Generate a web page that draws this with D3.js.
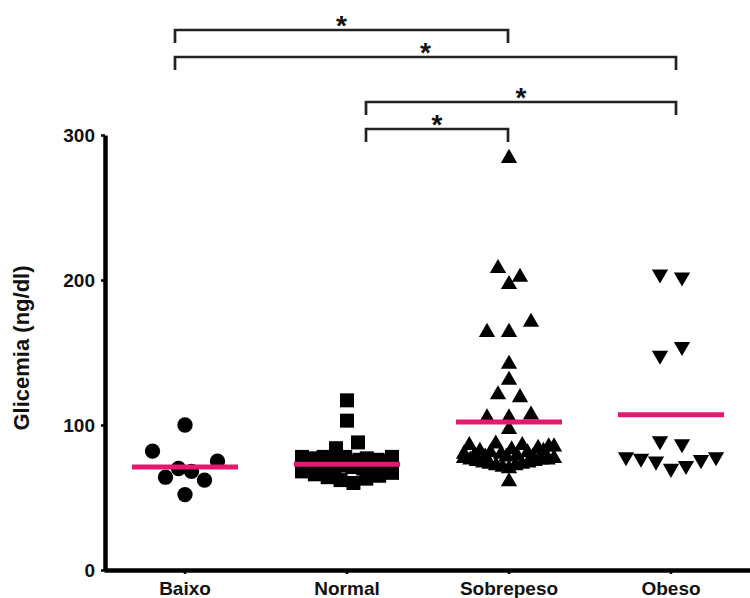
<!DOCTYPE html>
<html>
<head>
<meta charset="utf-8">
<script src="https://cdn.jsdelivr.net/npm/d3@7"></script>
<style>
  html, body { margin: 0; padding: 0; background: #fff; }
  svg text { font-family: "Liberation Sans", Arial, Helvetica, sans-serif; font-weight: bold; fill: #111; }
</style>
</head>
<body>
<div id="page"></div>
<script>
(function() {

  "use strict";

  var categories = [ "Baixo", "Normal", "Sobrepeso", "Obeso" ];

  var baixo = [ 100, 82, 64, 70, 68, 62, 75, 52 ];

  var normal = [ 117, 103, 84, 88,
    78, 74, 71, 77, 75, 70, 78, 73, 76, 69, 77, 72, 78, 75, 71, 74, 76, 70, 77,
    73, 69, 76, 72, 75, 74, 78,
    68, 66, 64, 62, 60, 63, 65, 67 ];

  var sobrepeso = [ 284, 208, 202, 197, 164, 164, 171, 142, 131, 121, 119,
    105, 105, 107, 97,
    80, 86, 79, 82, 78, 81, 87, 80, 78, 83, 79, 86, 81, 78, 84, 82, 85, 85,
    77, 76, 75, 74, 73, 72, 71, 70, 72, 73, 74, 75, 76, 76, 77,
    61 ];

  var obeso = [ 204, 202, 148, 154, 89, 87, 78, 77, 75, 70, 72, 76, 78 ];

  var means = [ 71, 73, 102, 107 ];

  var yTicks = [ 0, 100, 200, 300 ];

  // significance brackets: from, to, label
  var comparisons = [
    [ "Baixo", "Sobrepeso", "*" ],
    [ "Baixo", "Obeso", "*" ],
    [ "Normal", "Obeso", "*" ],
    [ "Normal", "Sobrepeso", "*" ]
  ];

  /* * * * * * * * * * * * * * * * * * * */

  var W = 750, H = 598,
    pink = "#e3186e",
    groups = [ baixo, normal, sobrepeso, obeso ],
    shapes = [ d3.symbolCircle, d3.symbolSquare, d3.symbolTriangle, d3.symbolTriangle ],
    sizes = [ 185, 196, 115, 115 ],
    rowH = [ 30, 14, 14, 14 ],
    rowW = [ 65, 90, 90, 90 ],
    bracketRows = [ 30, 57, 102, 129 ],
    bracketEnd = { "Baixo": -10, "Normal": 19, "Sobrepeso": -1, "Obeso": 5 };

  var svg = d3.select( "#page" ).append( "svg" )
    .attr( "width", W )
    .attr( "height", H );

  var x = d3.scaleBand()
    .domain( categories )
    .range( [ 104, 752 ] );

  var y = d3.scaleLinear()
    .domain( [ 0, 300 ] )
    .range( [ 570, 135 ] );

  function cx( c ) {
    return x( c ) + x.bandwidth() / 2;
  }

  /* * * * * * * * * * * * * * * * * * * */

  // prism-like scatter: close values share a row and are spread sideways
  function spreadRows( vals, binH, sMax, maxW ) {
    var pts = vals.map( function( v, i ) { return { v: v, i: i, py: y( v ) }; } ),
      rows = [], cur = null, prev = null;

    pts.slice()
      .sort( function( a, b ) { return ( b.v - a.v ) || ( a.i - b.i ); } )
      .forEach( function( p ) {
        if ( !cur || p.py - cur.top > binH || p.py - prev.py > 14 ) {
          cur = { top: p.py, pts: [] };
          rows.push( cur );
        }
        cur.pts.push( p );
        prev = p;
      });

    rows.forEach( function( r ) {
      var n = r.pts.length,
        s = n > 1 ? Math.min( sMax, maxW / ( n - 1 ) ) : 0;
      r.pts.sort( function( a, b ) { return a.i - b.i; } );
      r.pts.forEach( function( p, k ) {
        p.dx = ( k - ( n - 1 ) / 2 ) * s;
      });
    });

    return pts;
  }

  /* * * * * * * * * * * * * * * * * * * */

  groups.forEach( function( vals, gi ) {
    var c = categories[ gi ],
      sym = d3.symbol().type( shapes[ gi ] ).size( sizes[ gi ] );

    svg.append( "g" )
      .selectAll( "path" )
      .data( spreadRows( vals, rowH[ gi ], 22, rowW[ gi ] ) )
      .enter().append( "path" )
      .attr( "d", sym )
      .attr( "fill", "#000" )
      .attr( "transform", function( p ) {
        return "translate(" + ( cx( c ) + p.dx ) + "," + p.py + ")" + ( gi === 3 ? " rotate(180)" : "" );
      });
  });

  svg.append( "g" )
    .selectAll( "line" )
    .data( means )
    .enter().append( "line" )
    .attr( "x1", function( m, i ) { return cx( categories[ i ] ) - 53; } )
    .attr( "x2", function( m, i ) { return cx( categories[ i ] ) + 53; } )
    .attr( "y1", function( m ) { return y( m ); } )
    .attr( "y2", function( m ) { return y( m ); } )
    .attr( "stroke", pink )
    .attr( "stroke-width", 5 );

  /* * * * * * * * * * * * * * * * * * * */

  var yAxis = svg.append( "g" )
    .attr( "transform", "translate(105,0)" )
    .call( d3.axisLeft( y ).tickValues( yTicks ).tickSize( 4 ).tickSizeOuter( 0 ).tickPadding( 6 ) );

  var xAxis = svg.append( "g" )
    .attr( "transform", "translate(0,570)" )
    .call( d3.axisBottom( x ).tickSize( 4 ).tickSizeOuter( 0 ) );

  [ yAxis, xAxis ].forEach( function( a ) {
    a.select( ".domain" ).attr( "stroke", "#000" ).attr( "stroke-width", 4.5 );
    a.selectAll( ".tick line" ).attr( "stroke", "#000" ).attr( "stroke-width", 2.5 );
    a.selectAll( "text" ).style( "font-size", "19px" ).attr( "fill", "#111" );
  });

  yAxis.selectAll( "text" ).attr( "dy", "0.35em" );
  xAxis.selectAll( "text" ).attr( "y", 25 ).attr( "dy", 0 );

  svg.append( "text" )
    .attr( "transform", "translate(29,348) rotate(-90)" )
    .attr( "text-anchor", "middle" )
    .style( "font-size", "22px" )
    .text( "Glicemia (ng/dl)" );

  /* * * * * * * * * * * * * * * * * * * */

  var br = svg.append( "g" )
    .selectAll( "g" )
    .data( comparisons )
    .enter().append( "g" );

  br.append( "path" )
    .attr( "fill", "none" )
    .attr( "stroke", "#222" )
    .attr( "stroke-width", 2.7 )
    .attr( "d", function( cmp, i ) {
      var x1 = cx( cmp[0] ) + bracketEnd[ cmp[0] ],
        x2 = cx( cmp[1] ) + bracketEnd[ cmp[1] ],
        yy = bracketRows[ i ];
      return "M" + x1 + "," + ( yy + 13 ) + "V" + yy + "H" + x2 + "V" + ( yy + 13 );
    });

  br.append( "text" )
    .attr( "text-anchor", "middle" )
    .style( "font-size", "28px" )
    .attr( "x", function( cmp ) {
      return ( cx( cmp[0] ) + bracketEnd[ cmp[0] ] + cx( cmp[1] ) + bracketEnd[ cmp[1] ] ) / 2;
    })
    .attr( "y", function( cmp, i ) { return bracketRows[ i ] + 5; } )
    .text( function( cmp ) { return cmp[2]; } );

})();
</script>
</body>
</html>
